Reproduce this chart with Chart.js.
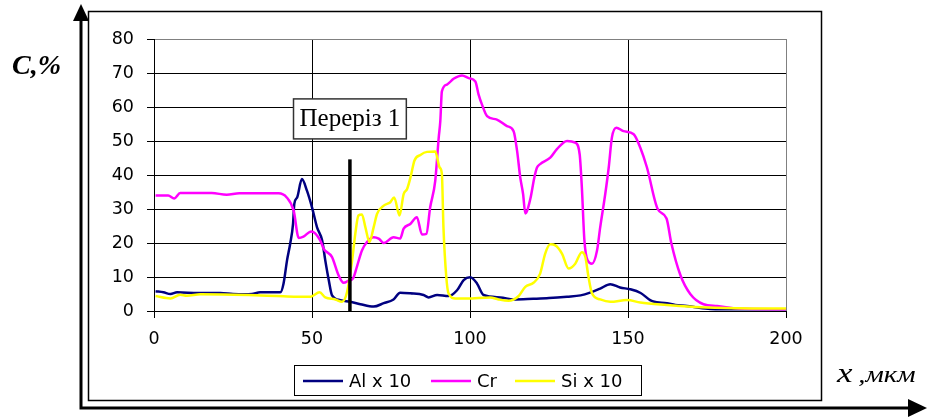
<!DOCTYPE html>
<html>
<head>
<meta charset="utf-8">
<script src="https://cdn.jsdelivr.net/npm/chart.js@4.4.1/dist/chart.umd.min.js"></script>
<style>
  html, body { margin: 0; padding: 0; background: #fff; }
  #chart { display: block; }
</style>
</head>
<body>
<canvas id="chart" width="927" height="418"></canvas>
<script>
// tick labels
const xTicks = [0, 50, 100, 150, 200];
const yTicks = [0, 10, 20, 30, 40, 50, 60, 70, 80];

// series names
const seriesNames = ['Al x 10', 'Cr', 'Si x 10'];

// Al x 10
const alX = [0.5, 3, 5.2, 7.3, 14, 21, 25, 28.4, 31, 33.6, 40, 41, 42.1, 43.1, 44, 44.4, 45.3, 46.8, 48.4, 50,
  51.6, 53.2, 54.2, 55.3, 56.3, 59, 62.1, 65.3, 69.5, 72.7, 75.8, 77.9, 81.1, 85.3, 86.9, 89.6, 93.2, 95.9, 98, 100.1,
  102.2, 104.3, 109.6, 113.8, 120, 125, 130.7, 135, 138, 141.2, 144.4, 147.5, 150.7, 154, 157, 158, 162.3, 165, 168.7, 172,
  176, 185, 200];
const alY = [5.8, 5.5, 5.0, 5.5, 5.3, 5.3, 5.0, 4.9, 5.0, 5.5, 5.5, 8.1, 14.9, 19.8, 25.6, 31.5, 33.4, 38.8, 35.4, 30.5,
  24.6, 20.8, 14.9, 9.1, 4.7, 3.2, 2.7, 2.0, 1.3, 2.3, 3.4, 5.4, 5.2, 4.7, 4.0, 4.7, 4.4, 6.1, 9.1, 9.9,
  8.1, 4.7, 4.0, 3.4, 3.6, 3.8, 4.2, 4.6, 5.4, 6.6, 7.9, 6.9, 6.4, 5.3, 3.2, 2.8, 2.3, 1.8, 1.5, 1.0,
  0.6, 0.5, 0.5];

// Cr
const crX = [0.5, 4.5, 6.4, 8.3, 18.3, 23, 27, 35, 39.4, 42, 44.2, 45.8, 47.3, 49.8, 52.6, 53.7, 56.3, 58.4, 60, 61.6,
  63, 64.2, 65.8, 67.4, 69.5, 71.1, 72.7, 75.8, 77.9, 79, 81.1, 83.2, 84.8, 86.2, 87.4, 89, 90.1, 90.6, 91.1, 92.7,
  94.8, 97.5, 99.6, 101.7, 102.7, 103.8, 105.4, 108.5, 111.7, 113.8, 114.9, 115.9, 116.8, 117.5, 119.1, 120.3, 121.2, 122.2, 125.4, 127.5,
  130.7, 133.3, 134.7, 135.4, 136.2, 137.2, 138.6, 140.2, 141.2, 142.8, 143.9, 144.9, 146.3, 148.6, 151.8, 153.9, 156, 159.4, 162.2, 163.7,
  166.6, 169.7, 173.9, 178.2, 185, 200];
const crY = [34, 34, 33.1, 34.7, 34.7, 34.2, 34.6, 34.6, 34.6, 33.4, 29.5, 21.5, 21.9, 23.4, 20.8, 18.3, 15.9, 10.5, 8.3, 8.9,
  9.6, 13, 17.8, 20.3, 21.7, 21.3, 20, 21.7, 21.3, 24.2, 25.6, 27.6, 22.5, 22.7, 30.5, 38.3, 51, 55.8, 64.6, 66.6,
  68.3, 69.3, 68.5, 67.5, 63.7, 60.7, 57.3, 56.3, 54.4, 52.9, 47.1, 39.3, 34.4, 28.7, 33, 39, 42.2, 43.2, 45.1, 47.6,
  50, 49.5, 46.1, 36.3, 20.8, 14.9, 13.9, 17.8, 24.6, 34.4, 42.2, 51, 53.9, 52.9, 52, 48, 42.2, 30, 27.2, 20,
  10.5, 5, 2, 1.5, 0.7, 0.5];

// Si x 10
const siX = [0.5, 5.2, 8.3, 10.4, 14.7, 25, 30, 38.9, 45, 49.5, 52.4, 54.2, 57.4, 59.5, 61.1, 62.7, 63.7, 64.7, 65.8, 66.9,
  68.2, 69.5, 70.6, 72.7, 74.8, 76, 77.7, 79, 80.1, 81.3, 82.4, 84.3, 86.4, 89, 90.4, 91.1, 91.6, 92.5, 93.2, 95.4,
  99, 106.4, 109, 112.2, 115.4, 117.5, 120.1, 122.2, 123.8, 125.4, 127, 129.1, 131.2, 133.3, 135.4, 136.5, 137.5, 138.6, 141.2, 144.4,
  149.7, 153.9, 162.3, 172.9, 185, 200];
const siY = [4.4, 3.7, 4.8, 4.5, 4.9, 4.8, 4.7, 4.4, 4.2, 4.2, 5.5, 4.0, 3.4, 2.7, 5.6, 14.9, 22.7, 28.1, 28.4, 24.6,
  20.3, 24.6, 28.6, 31, 32, 33.4, 28.1, 34.4, 35.9, 39.8, 44.2, 45.9, 46.8, 46.9, 42.2, 40.3, 24.6, 10, 5.2, 3.7,
  3.7, 4.0, 3.4, 3.0, 4.4, 7.1, 8.3, 11, 16.9, 19.6, 19.3, 16.9, 12.5, 13.9, 17.3, 15.9, 10, 5.2, 3.4, 2.7,
  3.2, 2.5, 1.8, 1.1, 0.8, 0.7];

// section marker
const cutX = 62;
const cutTop = 44.6;
const cutLabel = 'Переріз 1';
const cutLabelY = 56.5;

const toPoints = (xs, ys) => xs.map((x, i) => ({ x: x, y: ys[i] }));

const colors = ['#000080', '#FF00FF', '#FFFF00'];

// рамка, стрелки, подписи осей, легенда
const decor = {
    id: 'decor',
    afterDraw(chart) {
        const ctx = chart.ctx;
        const xs = chart.scales.x, ys = chart.scales.y;
        ctx.save();

        // frame
        ctx.strokeStyle = '#000';
        ctx.lineWidth = 1.5;
        ctx.strokeRect(88.5, 11.5, 733, 389);

        // axis arrows
        ctx.lineWidth = 3;
        ctx.beginPath();
        ctx.moveTo(81, 409.5);
        ctx.lineTo(81, 18);
        ctx.moveTo(79.5, 408);
        ctx.lineTo(912, 408);
        ctx.stroke();
        ctx.fillStyle = '#000';
        ctx.beginPath();
        ctx.moveTo(81, 4); ctx.lineTo(73, 21); ctx.lineTo(89, 21); ctx.closePath();
        ctx.fill();
        ctx.beginPath();
        ctx.moveTo(927, 408); ctx.lineTo(908, 399); ctx.lineTo(908, 417); ctx.closePath();
        ctx.fill();

        // axis titles
        ctx.textBaseline = 'alphabetic';
        ctx.textAlign = 'left';
        ctx.font = 'italic bold 28px "Liberation Serif"';
        ctx.fillText('C,%', 12, 74);
        ctx.save();
        ctx.translate(837, 382);
        ctx.scale(1.25, 1);
        ctx.font = 'italic 28px "Liberation Serif"';
        ctx.fillText('x', 0, 0);
        ctx.font = 'italic 23px "Liberation Serif"';
        ctx.fillText(',мкм', 17, 0);
        ctx.restore();

        // section label
        const cx = xs.getPixelForValue(cutX);
        const cy = ys.getPixelForValue(cutLabelY);
        ctx.font = '25px "Liberation Serif"';
        const tw = ctx.measureText(cutLabel).width;
        const bw = tw + 12, bh = 40;
        ctx.fillStyle = '#fff';
        ctx.fillRect(cx - bw / 2, cy - bh / 2, bw, bh);
        ctx.lineWidth = 1.5;
        ctx.strokeStyle = '#333';
        ctx.strokeRect(cx - bw / 2, cy - bh / 2, bw, bh);
        ctx.fillStyle = '#000';
        ctx.textAlign = 'center';
        ctx.textBaseline = 'middle';
        ctx.fillText(cutLabel, cx, cy + 1);

        // legend
        ctx.fillStyle = '#fff';
        ctx.fillRect(294, 365, 348, 31);
        ctx.lineWidth = 1;
        ctx.strokeStyle = '#000';
        ctx.strokeRect(294.5, 365.5, 347, 30);
        const itemX = [303, 431, 515];
        ctx.font = '18px "DejaVu Sans"';
        ctx.textAlign = 'left';
        ctx.textBaseline = 'middle';
        seriesNames.forEach((name, i) => {
            const ds = chart.data.datasets[i];
            ctx.strokeStyle = ds.borderColor;
            ctx.lineWidth = 2.5;
            ctx.beginPath();
            ctx.moveTo(itemX[i], 381);
            ctx.lineTo(itemX[i] + 40, 381);
            ctx.stroke();
            ctx.fillStyle = '#000';
            ctx.fillText(name, itemX[i] + 46, 382);
        });
        ctx.restore();
    }
};

const tickFont = { family: 'DejaVu Sans', size: 17.5 };

new Chart(document.getElementById('chart'), {
    type: 'line',
    data: {
        datasets: [
            { label: seriesNames[0], data: toPoints(alX, alY), borderColor: colors[0], order: 3 },
            { label: seriesNames[1], data: toPoints(crX, crY), borderColor: colors[1], order: 2 },
            { label: seriesNames[2], data: toPoints(siX, siY), borderColor: colors[2], order: 1 },
            { label: 'cut', data: [{ x: cutX, y: -0.3 }, { x: cutX, y: cutTop }], borderColor: '#000',
              borderWidth: 3.5, tension: 0, order: 0 }
        ]
    },
    options: {
        responsive: false,
        animation: false,
        events: [],
        layout: { padding: { left: 94, right: 141, top: 39, bottom: 62 } },
        plugins: { legend: { display: false }, tooltip: { enabled: false } },
        elements: {
            point: { radius: 0 },
            line: { borderWidth: 2.5, tension: 0.3, cubicInterpolationMode: 'monotone' }
        },
        scales: {
            x: {
                type: 'linear',
                min: 0,
                max: 200,
                afterBuildTicks: s => { s.ticks = xTicks.map(v => ({ value: v })); },
                afterFit: s => { s.height = 45; },
                grid: {
                    color: c => (c.tick && c.tick.value === 200 ? '#808080' : '#000'),
                    tickColor: '#000',
                    tickLength: 7,
                    lineWidth: 1
                },
                border: { color: '#000', width: 1 },
                ticks: { font: tickFont, color: '#000', padding: 11, maxRotation: 0 }
            },
            y: {
                min: 0,
                max: 80,
                afterBuildTicks: s => { s.ticks = yTicks.map(v => ({ value: v })); },
                afterFit: s => { s.width = 60; },
                grid: {
                    color: c => (c.tick && c.tick.value === 80 ? '#808080' : '#000'),
                    tickColor: '#000',
                    tickLength: 7,
                    lineWidth: 1
                },
                border: { color: '#000', width: 1 },
                ticks: { font: tickFont, color: '#000', padding: 13 }
            }
        }
    },
    plugins: [decor]
});
</script>
</body>
</html>
